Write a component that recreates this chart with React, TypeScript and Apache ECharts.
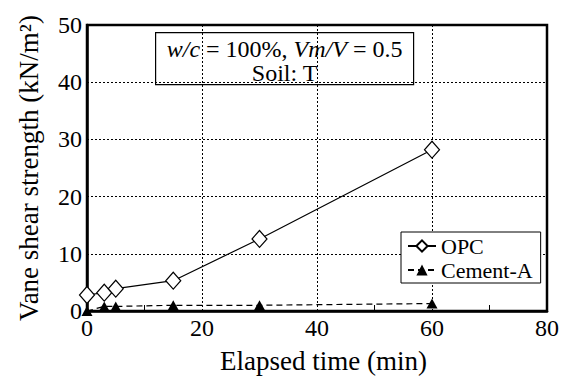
import React, { useEffect, useRef } from "react";
import * as echarts from "echarts";

const seriesNames = ["OPC", "Cement-A"];
const opcTime = [0, 3, 5, 15, 30, 60];
const opcStrength = [2.8, 3.2, 3.9, 5.3, 12.6, 28.2];
const cemTime = [0, 3, 5, 15, 30, 60];
const cemStrength = [0, 0.8, 0.8, 1.0, 1.0, 1.3];
const xTitle = "Elapsed time (min)";
const yTitle = "Vane shear strength (kN/m²)";
const noteLine1 = ["w/c", " = 100%, ", "Vm/V", " = 0.5"];
const noteLine2 = "Soil: T";

const FONT = "Liberation Serif";

export default function App() {
  const ref = useRef<HTMLDivElement>(null);
  useEffect(() => {
    document.body.style.margin = "0";
    if (!ref.current) return;
    const chart = echarts.init(ref.current, null, { renderer: "svg" });
    const gridLeft = 87, gridRight = 13, gridTop = 25, gridBottom = 67;
    chart.setOption({
      animation: false,
      backgroundColor: "#fff",
      textStyle: { fontFamily: FONT },
      grid: {
        left: gridLeft,
        right: gridRight,
        top: gridTop,
        bottom: gridBottom,
        show: true,
        borderColor: "#000",
        borderWidth: 2.5,
        backgroundColor: "transparent",
      },
      xAxis: {
        type: "value",
        min: 0,
        max: 80,
        interval: 20,
        name: xTitle,
        nameLocation: "middle",
        nameGap: 36,
        nameTextStyle: { fontFamily: FONT, fontSize: 27, color: "#000", padding: [0, 0, 0, 13] },
        axisLine: { show: true, lineStyle: { color: "#000", width: 2.5 } },
        axisTick: { show: false, inside: true },
        minorTick: { show: true, splitNumber: 2, length: 6, lineStyle: { color: "#000", width: 1 } },
        axisLabel: { fontFamily: FONT, fontSize: 24, color: "#000", margin: 5 },
        splitLine: { show: true, lineStyle: { color: "#000", width: 1, type: [2, 2] } },
      },
      yAxis: {
        type: "value",
        min: 0,
        max: 50,
        interval: 10,
        name: yTitle,
        nameLocation: "middle",
        nameGap: 45,
        nameTextStyle: { fontFamily: FONT, fontSize: 27, color: "#000" },
        axisLine: { show: true, lineStyle: { color: "#000", width: 2.5 } },
        axisTick: { show: false },
        axisLabel: { fontFamily: FONT, fontSize: 24, color: "#000", margin: 5 },
        splitLine: { show: true, lineStyle: { color: "#000", width: 1, type: [2, 2] } },
      },
      legend: {
        orient: "vertical",
        left: 401,
        top: 232,
        width: 146,
        padding: [3, 8, 2, 6],
        itemGap: 2,
        itemWidth: 28,
        itemHeight: 14,
        borderColor: "#000",
        borderWidth: 1,
        backgroundColor: "#fff",
        textStyle: { fontFamily: FONT, fontSize: 22, color: "#000", lineHeight: 22 },
        data: seriesNames,
      },
      series: [
        {
          name: seriesNames[0],
          type: "line",
          data: opcTime.map((t, i) => [t, opcStrength[i]]),
          symbol: "diamond",
          symbolSize: [15, 17],
          lineStyle: { color: "#000", width: 1.2 },
          itemStyle: { color: "#fff", borderColor: "#000", borderWidth: 1.2 },
          clip: false,
          z: 3,
        },
        {
          name: seriesNames[1],
          type: "line",
          data: cemTime.map((t, i) => [t, cemStrength[i]]),
          symbol: "triangle",
          symbolSize: [11, 10],
          lineStyle: { color: "#000", width: 1.2, type: [6, 4] },
          itemStyle: { color: "#000", borderColor: "#000", borderWidth: 0 },
          clip: false,
          z: 3,
        },
      ],
      graphic: [
        {
          type: "group",
          left: 155,
          top: 32,
          z: 10,
          children: [
            {
              type: "rect",
              shape: { x: 0, y: 0, width: 258, height: 52 },
              style: { fill: "#fff", stroke: "#000", lineWidth: 1.2 },
            },
            {
              type: "text",
              x: 129,
              y: 4,
              style: {
                text:
                  "{i|" + noteLine1[0] + "}{n|" + noteLine1[1] + "}{i|" + noteLine1[2] + "}{n|" + noteLine1[3] + "}\n{n|" + noteLine2 + "}",
                align: "center",
                verticalAlign: "top",
                fill: "#000",
                fontFamily: FONT,
                fontSize: 24,
                rich: {
                  i: { fontFamily: FONT, fontSize: 24, fontStyle: "italic", lineHeight: 24, fill: "#000" },
                  n: { fontFamily: FONT, fontSize: 24, lineHeight: 24, fill: "#000" },
                },
              },
            },
          ],
        },
      ],
    });
    return () => chart.dispose();
  }, []);
  return <div ref={ref} style={{ width: 562, height: 379 }} />;
}
